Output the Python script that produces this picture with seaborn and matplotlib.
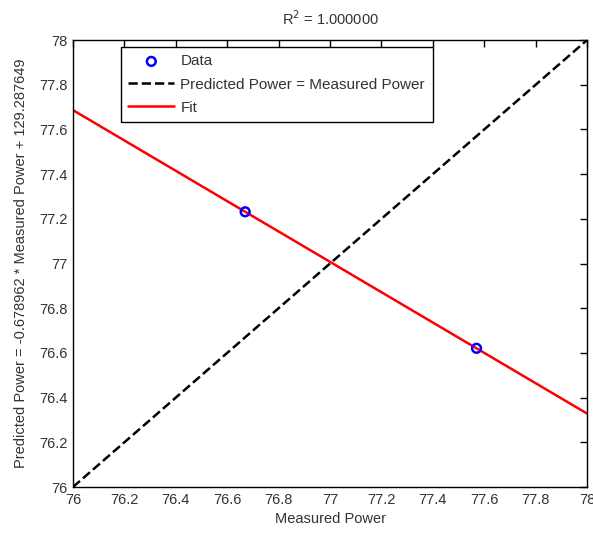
import numpy as np
import pandas as pd
import matplotlib
import matplotlib.pyplot as plt
import seaborn as sns

matplotlib.use('Agg')

# data
measured = [76.67, 77.57]
predicted = [77.2316, 76.6206]
slope = -0.678962
intercept = 129.287649
x_range = [76, 78]
ticks_x = [76, 76.2, 76.4, 76.6, 76.8, 77, 77.2, 77.4, 77.6, 77.8, 78]
ticks_y = [76, 76.2, 76.4, 76.6, 76.8, 77, 77.2, 77.4, 77.6, 77.8, 78]

sns.set_style('white')
plt.rcParams['font.family'] = ['Liberation Sans', 'DejaVu Sans']
plt.rcParams['font.size'] = 10.5

data = pd.DataFrame({'Measured': measured, 'Predicted': predicted})
fit_x = np.array(x_range)
fit = pd.DataFrame({'x': fit_x, 'y': slope * fit_x + intercept})
ident = pd.DataFrame({'x': x_range, 'y': x_range})

fig = plt.figure(figsize=(5.93, 5.34), dpi=100)
ax = fig.add_axes([0.123, 0.088, 0.867, 0.837])

sns.scatterplot(data=data, x='Measured', y='Predicted', ax=ax, marker='o',
                s=40, facecolors='none', edgecolor='blue', linewidth=1.8,
                label='Data', zorder=3)
sns.lineplot(data=ident, x='x', y='y', ax=ax, color='black', linestyle='--',
             linewidth=1.8, label='Predicted Power = Measured Power')
sns.lineplot(data=fit, x='x', y='y', ax=ax, color='red', linewidth=1.8,
             label='Fit')

ax.set_xlim(76, 78)
ax.set_ylim(76, 78)
ax.set_xticks(ticks_x)
ax.set_xticklabels([f'{t:g}' for t in ticks_x])
ax.set_yticks(ticks_y)
ax.set_yticklabels([f'{t:g}' for t in ticks_y])
ax.tick_params(direction='in', length=5, top=True, right=True, width=1,
               colors='black', labelcolor='#333333', labelsize=10.5, pad=4)
for s in ax.spines.values():
    s.set_visible(True)
    s.set_color('black')
    s.set_linewidth(1)

ax.set_xlabel('Measured Power', color='#333333', fontsize=10.5)
ax.set_ylabel('Predicted Power = -0.678962 * Measured Power + 129.287649',
              color='#333333', fontsize=10.5, labelpad=8)
ax.set_title('R$^2$ = 1.000000', color='#333333', fontsize=10.5, pad=11)

leg = ax.legend(loc='upper left', bbox_to_anchor=(0.093, 0.985), frameon=True,
                fancybox=False, edgecolor='black', framealpha=1,
                fontsize=11, handlelength=3.0, borderpad=0.5,
                labelspacing=0.6, handletextpad=0.4, borderaxespad=0)
leg.get_frame().set_linewidth(1)
for t in leg.get_texts():
    t.set_color('#333333')

fig.savefig('out.png', dpi=100)
plt.close()
